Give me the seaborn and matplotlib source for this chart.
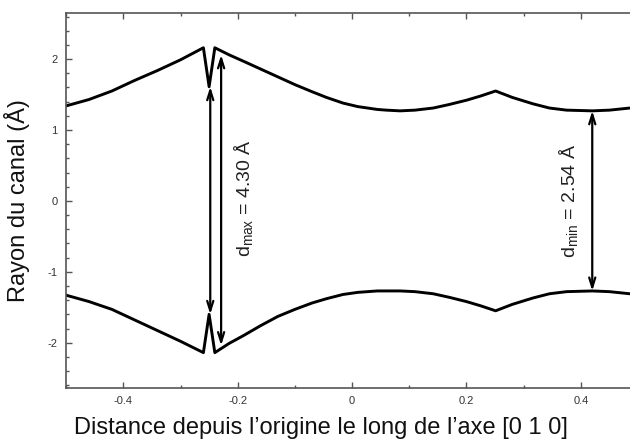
import matplotlib
matplotlib.use("Agg")
import matplotlib.pyplot as plt
from matplotlib.ticker import MultipleLocator
import seaborn as sns
import pandas as pd

# Channel radius
x_upper = [-0.50, -0.46, -0.42, -0.38, -0.34, -0.30, -0.26, -0.25, -0.24, -0.215,
           -0.19, -0.16, -0.13, -0.10, -0.07, -0.045, -0.016, 0.01, 0.044, 0.06,
           0.084, 0.11, 0.142, 0.17, 0.20, 0.225, 0.251, 0.28, 0.316, 0.345,
           0.375, 0.42, 0.45, 0.486]
y_upper = [1.34, 1.43, 1.55, 1.70, 1.84, 1.99, 2.16, 1.61, 2.16, 2.06,
           1.97, 1.86, 1.75, 1.64, 1.54, 1.46, 1.38, 1.33, 1.29, 1.28,
           1.27, 1.28, 1.31, 1.36, 1.42, 1.48, 1.55, 1.46, 1.37, 1.31,
           1.28, 1.27, 1.28, 1.31]

x_lower = [-0.50, -0.46, -0.42, -0.38, -0.34, -0.30, -0.26, -0.25, -0.24, -0.215,
           -0.19, -0.16, -0.13, -0.10, -0.07, -0.045, -0.016, 0.01, 0.044, 0.06,
           0.084, 0.11, 0.142, 0.17, 0.20, 0.225, 0.251, 0.28, 0.316, 0.345,
           0.375, 0.42, 0.45, 0.486]
y_lower = [-1.33, -1.42, -1.53, -1.68, -1.83, -1.98, -2.14, -1.60, -2.14, -2.01,
           -1.90, -1.76, -1.63, -1.53, -1.44, -1.38, -1.32, -1.29, -1.27, -1.27,
           -1.27, -1.28, -1.31, -1.36, -1.42, -1.48, -1.55, -1.46, -1.37, -1.31,
           -1.28, -1.27, -1.28, -1.31]

# Annotations: (x, y_top, y_bottom)
arrow_dmax_inner = (-0.248, 1.61, -1.60)
arrow_dmax_outer = (-0.229, 2.06, -2.04)
arrow_dmin = (0.42, 1.27, -1.27)
label_dmax = "d$_{max}$ = 4.30 Å"
label_dmin = "d$_{min}$ = 2.54 Å"

sns.set_style("ticks")
plt.rcParams["font.family"] = ["Liberation Sans", "DejaVu Sans"]
plt.rcParams["mathtext.default"] = "regular"

fig = plt.figure(figsize=(6.3, 4.41), dpi=100)
ax = fig.add_axes([0.105, 0.12, 0.895, 0.8505])

df_up = pd.DataFrame({"x": x_upper, "y": y_upper})
df_lo = pd.DataFrame({"x": x_lower, "y": y_lower})
sns.lineplot(data=df_up, x="x", y="y", ax=ax, color="black", lw=2.1, sort=False, estimator=None)
sns.lineplot(data=df_lo, x="x", y="y", ax=ax, color="black", lw=2.1, sort=False, estimator=None)

arrow_kw = dict(arrowstyle="<->,head_length=0.7,head_width=0.22", color="black", lw=1.6,
                shrinkA=0, shrinkB=0)
for xa, y0, y1 in [arrow_dmax_inner, arrow_dmax_outer, arrow_dmin]:
    ax.annotate("", xy=(xa, y0), xytext=(xa, y1), arrowprops=arrow_kw)

ax.text(-0.19, 0.04, label_dmax, rotation=90, ha="center", va="center", fontsize=14, color="#222222")
ax.text(0.378, 0.0, label_dmin, rotation=90, ha="center", va="center", fontsize=14, color="#222222")

ax.set_xlim(-0.5, 0.486)
ax.set_ylim(-2.64, 2.65)
ax.xaxis.set_major_locator(MultipleLocator(0.2))
ax.xaxis.set_minor_locator(MultipleLocator(0.1))
ax.yaxis.set_major_locator(MultipleLocator(1))
ax.yaxis.set_minor_locator(MultipleLocator(0.2))
ax.tick_params(which="both", direction="in", top=True, bottom=True, left=True, right=False,
               color="#555555", labelsize=8, labelcolor="#333333", width=1)
ax.tick_params(which="major", length=4)
ax.tick_params(which="minor", length=2.5)
ax.set_xticks([-0.4, -0.2, 0, 0.2, 0.4])
ax.set_xticklabels(["-0.4", "-0.2", "0", "0.2", "0.4"])
ax.set_yticks([-2, -1, 0, 1, 2])
ax.set_yticklabels(["-2", "-1", "0", "1", "2"])
ax.tick_params(axis="x", pad=6)
ax.tick_params(axis="y", pad=6)

for side in ["left", "top", "bottom"]:
    ax.spines[side].set_visible(True)
    ax.spines[side].set_color("#555555")
    ax.spines[side].set_linewidth(1.2)
ax.spines["right"].set_visible(False)

ax.set_xlabel("Distance depuis l\u2019origine le long de l\u2019axe [0 1 0]", fontsize=17, color="#111111")
ax.set_ylabel("Rayon du canal (Å)", fontsize=17, color="#111111")
# the picture is cropped on the right, so the x label sits left of the axes centre
ax.xaxis.set_label_coords(0.452, -0.077, transform=ax.transAxes)
ax.xaxis.label.set_va("top")
ax.yaxis.set_label_coords(-0.087, 0.5, transform=ax.transAxes)
ax.yaxis.label.set_va("center")
ax.yaxis.label.set_ha("center")

fig.savefig("out.png", dpi=100)
